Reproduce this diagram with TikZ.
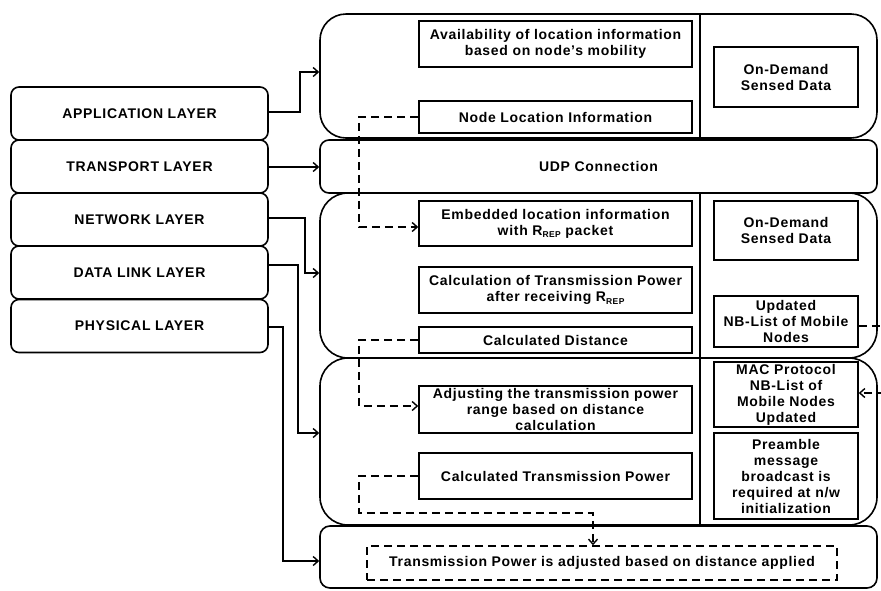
\documentclass[tikz,border=0pt]{standalone}
\usepackage{fontspec}
\setmainfont{Liberation Sans}[LetterSpace=5]
\usetikzlibrary{arrows.meta}
\newcommand{\rrep}{R{\fontsize{8.5}{9}\selectfont\raisebox{-2.5pt}{REP}}}
\tikzset{
  txt/.style={font=\bfseries\fontsize{14}{16}\selectfont, align=center},
  layer/.style={txt, draw, line width=1.6, rounded corners=8, minimum width=257, minimum height=53, inner sep=0},
  panel/.style={draw, line width=1.6, minimum width=557, inner sep=0},
  ibox/.style={txt, draw, line width=1.6, inner sep=0},
  lbox/.style={ibox, minimum width=273},
  rbox/.style={ibox, minimum width=144},
  conn/.style={line width=1.6, -{Straight Barb[length=5,width=9,line width=1.4]}},
  dconn/.style={conn, dash pattern=on 8 off 5},
  divider/.style={line width=1.6}
}
\begin{document}
\begin{tikzpicture}[x=1pt,y=-1pt]
\useasboundingbox (0,0) rectangle (881,590);
% left layers
\node[layer] (app) at (139.5,113.5) {APPLICATION LAYER};
\node[layer] (tra) at (139.5,166.5) {TRANSPORT LAYER};
\node[layer] (net) at (139.5,219.5) {NETWORK LAYER};
\node[layer] (dll) at (139.5,272.5) {DATA LINK LAYER};
\node[layer] (phy) at (139.5,326) {PHYSICAL LAYER};
% panels
\node[panel, rounded corners=26, minimum height=124] (p1) at (598.5,76) {};
\node[panel, txt, rounded corners=9, minimum height=53] (p2) at (598.5,166.5) {UDP Connection};
\node[panel, rounded corners=28, minimum height=165] (p3) at (598.5,275.5) {};
\node[panel, rounded corners=28, minimum height=167] (p4) at (598.5,441.5) {};
\node[panel, rounded corners=10, minimum height=62] (p5) at (598.5,557) {};
% dividers
\coordinate (vx) at (700,0);
\draw[divider] (vx |- p1.north) -- (vx |- p1.south);
\draw[divider] (vx |- p3.north) -- (vx |- p3.south);
\draw[divider] (vx |- p4.north) -- (vx |- p4.south);
% inner boxes
\node[lbox, minimum height=46] (avail) at (555.5,44) {Availability of location information\\based on node’s mobility};
\node[lbox, minimum height=32] (nloc) at (555.5,117) {Node Location Information};
\node[rbox, minimum height=60] (od1) at (786,77) {On-Demand\\Sensed Data};
\node[lbox, minimum height=45] (emb) at (555.5,223.5) {Embedded location information\\with \rrep{} packet};
\node[lbox, minimum height=46] (calc) at (555.5,290) {Calculation of Transmission Power\\after receiving \rrep};
\node[lbox, minimum height=26] (cdist) at (555.5,340) {Calculated Distance};
\node[rbox, minimum height=59] (od2) at (786,230.5) {On-Demand\\Sensed Data};
\node[rbox, minimum height=51] (upd) at (786,321.5) {Updated\\NB-List of Mobile\\Nodes};
\node[lbox, minimum height=47] (adj) at (555.5,409.5) {Adjusting the transmission power\\range based on distance\\calculation};
\node[lbox, minimum height=46] (ctp) at (555.5,476) {Calculated Transmission Power};
\node[rbox, minimum height=65] (mac) at (786,394.5) {MAC Protocol\\NB-List of\\Mobile Nodes\\Updated};
\node[rbox, minimum height=86] (pre) at (786,476) {Preamble\\message\\broadcast is\\required at n/w\\initialization};
\node[ibox, dash pattern=on 8 off 5, minimum width=470, minimum height=34] (tpa) at (602,563) {Transmission Power is adjusted based on distance applied};
% layer connectors
\draw[conn] (app.east |- 0,112) -- (300,112) -- (300,72) -- (p1.west |- 0,72);
\draw[conn] (tra.east |- 0,167) -- (p2.west |- 0,167);
\draw[conn] (net.east |- 0,218) -- (305,218) -- (305,273) -- (p3.west |- 0,273);
\draw[conn] (dll.east |- 0,265) -- (298,265) -- (298,433) -- (p4.west |- 0,433);
\draw[conn] (phy.east |- 0,327) -- (283,327) -- (283,561) -- (p5.west |- 0,561);
% dashed connectors
\coordinate (lx) at (359,0);
\draw[dconn] (nloc.west) -- (lx |- nloc.west) -- (359,227) -- (emb.west |- 0,227);
\draw[dconn] (cdist.west) -- (lx |- cdist.west) -- (359,406) -- (adj.west |- 0,406);
\coordinate (t1) at (593,513);
\draw[dconn] (ctp.west) -- (lx |- ctp.west) -- (359,513) -- (t1) -- (t1 |- tpa.north);
\coordinate (u1) at (884,326);
\draw[dconn] (upd.east |- u1) -- (u1) -- (884,393) -- (mac.east |- 0,393);
\end{tikzpicture}
\end{document}
